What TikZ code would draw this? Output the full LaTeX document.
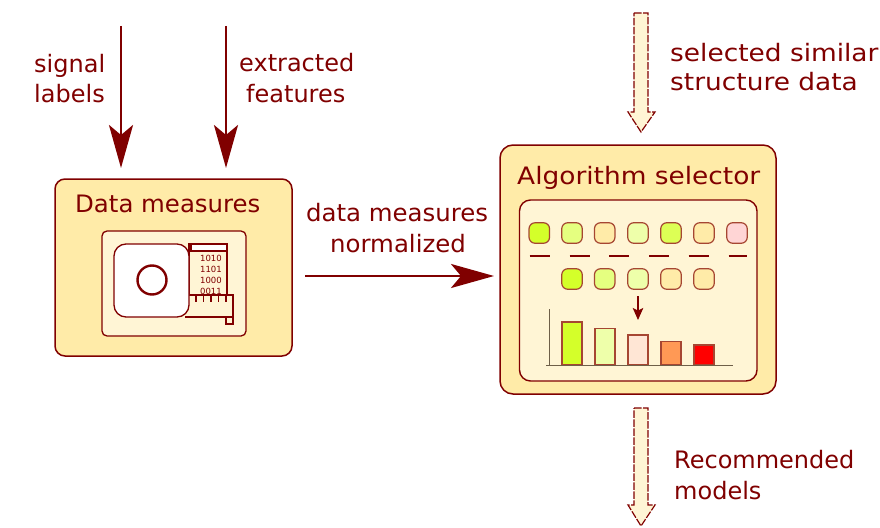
\documentclass[tikz,border=0pt]{standalone}
\usepackage{fontspec}
\setmainfont{DejaVu Sans}
\usetikzlibrary{arrows.meta}
\definecolor{dred}{HTML}{800000}
\definecolor{cream}{HTML}{FFEBA8}
\definecolor{pale}{HTML}{FFF5D5}
\definecolor{axisc}{HTML}{6E5F48}
\definecolor{gA}{HTML}{D4FF2A}
\definecolor{gB}{HTML}{E5FF80}
\definecolor{gC}{HTML}{EEFFAA}
\definecolor{gD}{HTML}{DDFF55}
\definecolor{pk}{HTML}{FFD5D5}
\definecolor{barC}{HTML}{FFE6D5}
\definecolor{barD}{HTML}{FF9955}
\newcommand{\wider}[2]{\scalebox{#1}[1]{#2}}
\tikzset{
  x=1pt,y=-1pt,
  lbl/.style={text=dred,anchor=base west,inner sep=0,font=\fontsize{24}{28}\selectfont},
  bigarrow/.style={draw=dred,line width=2.9pt,-{Stealth[length=43pt,width=24pt,inset=10pt,fill=dred]}},
  hollow/.style={draw=dred,line width=1.2pt,fill=pale,dash pattern=on 7.5pt off 1.5pt,line join=miter},
  chip/.style={draw=dred!70!cream,line width=1.2pt,rounded corners=6pt,minimum width=20.5pt,minimum height=20.5pt,inner sep=0,fill=#1},
  sep/.style={draw=dred,line width=2.2pt},
  barbox/.style={draw=dred!70!cream,line width=1.1pt,fill=#1},
  axisline/.style={draw=axisc,line width=1pt},
  bits/.style={text=dred,anchor=base east,inner sep=0,font=\fontsize{8.5}{10}\selectfont},
  part/.style={draw=dred,line width=1.3pt,fill=#1},
}
\begin{document}
\begin{tikzpicture}
\useasboundingbox (0,0) rectangle (880,527);
% data measures box
\path[draw=dred,line width=1.5pt,fill=cream,rounded corners=10pt] (55,179) rectangle (292,356);
\path[part=pale,rounded corners=5pt] (102,231) rectangle (246,336);
\path[part=pale] (189,244) rectangle (227,295);
\path[part=white] (191,244) rectangle (227,251);
\node[bits] (b1) at (222,261) {1010};
\node[bits] (b2) at (222,272) {1101};
\node[bits] (b3) at (222,283) {1000};
\node[bits] (b4) at (222,294) {0011};
\path[part=pale] (185,295) -- (233,295) -- (233,317) -- (185,317);
\foreach \tx in {196,203.5,211,218.5,226} \draw[dred,line width=1.1pt] (\tx,295) -- (\tx,302);
\path[part=pale] (226,317) rectangle (233,324);
\path[part=white,rounded corners=12pt] (114,244) rectangle (189,317);
\path[draw=dred,line width=2.4pt] (152,280) circle[radius=14.5];
\node[lbl] (t1) at (75,212) {\wider{1.017}{Data measures}};
% selector box
\path[draw=dred,line width=1.5pt,fill=cream,rounded corners=13pt] (500,145) rectangle (776,394);
\path[draw=dred,line width=1.4pt,fill=pale,rounded corners=11pt] (519.5,200) rectangle (757,381);
\node[lbl] (t2) at (517,184) {\wider{1.1}{Algorithm selector}};
\foreach \n/\cx/\cc in {a/539.3/gA,b/572/gB,c/604.7/cream,d/638/gC,e/671/gD,f/704/cream,g/737/pk}
  \node[chip=\cc] (top\n) at (\cx,233) {};
\foreach \xa/\xb in {529.5/549.5,569.5/589.5,609/629,649/669,688.5/708.5,728.5/746.5}
  \draw[sep] (\xa,256.3) -- (\xb,256.3);
\foreach \n/\cx/\cc in {a/572/gA,b/604.7/gB,c/638/gC,d/671/cream,e/704/cream}
  \node[chip=\cc] (mid\n) at (\cx,279) {};
\coordinate (s1) at (638,296);
\coordinate (s2) at (638,320);
\draw[dred,line width=1.4pt,-{Stealth[length=12pt,width=10.5pt,inset=2.5pt,fill=dred]}] (s1) -- (s2);
\path[barbox=gA] (562,322) rectangle (582,365);
\path[barbox=gC] (595,328.3) rectangle (615,365);
\path[barbox=barC] (628,335) rectangle (648,365);
\path[barbox=barD] (661,341.7) rectangle (681,365);
\path[barbox=red] (694,345) rectangle (714,365);
\draw[axisline] (549,309) -- (549,365);
\draw[axisline] (546,365) -- (733,365);
% arrows
\coordinate (a1s) at (121,26);
\coordinate (a1e) at (121,168);
\coordinate (a2s) at (226,26);
\coordinate (a2e) at (226,168);
\coordinate (a3s) at (305,276);
\coordinate (a3e) at (494,276);
\draw[bigarrow] (a1s) -- (a1e);
\draw[bigarrow] (a2s) -- (a2e);
\draw[bigarrow] (a3s) -- (a3e);
\draw[hollow] (634,13) -- (648,13) -- (648,112) -- (655,112) -- (641,132) -- (628,112) -- (634,112) -- cycle;
\draw[hollow] (634,408) -- (648,408) -- (648,505) -- (655,505) -- (641,526) -- (628,505) -- (634,505) -- cycle;
% labels
\node[lbl] (l1) at (34,72) {signal};
\node[lbl] (l2) at (34,102) {labels};
\node[lbl] (l3) at (239,71) {extracted};
\node[lbl] (l4) at (246,102) {features};
\node[lbl] (l5) at (306,221) {\wider{1.017}{data measures}};
\node[lbl] (l6) at (330,252) {\wider{1.017}{normalized}};
\node[lbl] (l7) at (670,62) {\wider{1.1}{selected similar}};
\node[lbl] (l8) at (670,90) {\wider{1.1}{structure data}};
\node[lbl] (l9) at (674,468) {Recommended};
\node[lbl] (l10) at (674,499) {models};
\end{tikzpicture}
\end{document}
